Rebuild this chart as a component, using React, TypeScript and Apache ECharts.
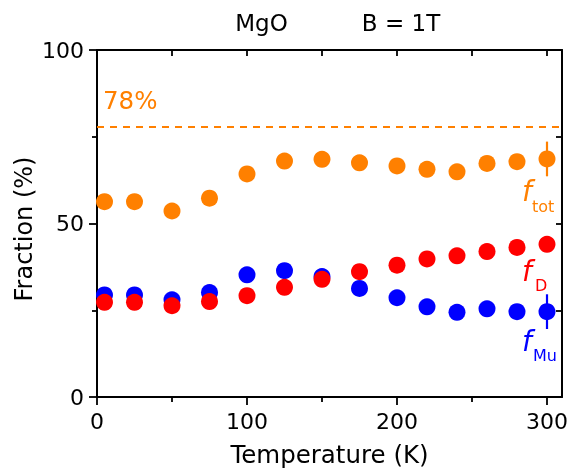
import React, { useEffect, useRef } from "react";
import * as echarts from "echarts";

const temps = [5, 25, 50, 75, 100, 125, 150, 175, 200, 220, 240, 260, 280, 300];
const fTot = [56.3, 56.3, 53.6, 57.3, 64.3, 68.0, 68.5, 67.5, 66.6, 65.6, 64.9, 67.3, 67.8, 68.6];
const fD = [27.3, 27.3, 26.3, 27.5, 29.2, 31.6, 33.9, 36.1, 38.0, 39.8, 40.7, 41.9, 43.1, 44.0];
const fMu = [29.4, 29.4, 28.0, 30.1, 35.2, 36.4, 34.7, 31.3, 28.6, 26.0, 24.4, 25.4, 24.6, 24.6];
const errTemp = 300;
const totErr = 5;
const muErr = 5;
const limitLine = 78;

const xMajor = [0, 100, 200, 300];
const xMinor = [50, 150, 250];
const xTop = [0, 50, 100, 150, 200, 250, 300];
const yMajor = [0, 50, 100];
const yMinor = [25, 75];
const yRight = [25, 50, 75];

const ORANGE = "#ff8000";
const RED = "#ff0000";
const BLUE = "#0000ff";
const FONT = "DejaVu Sans";

export default function App() {
  const ref = useRef<HTMLDivElement>(null);
  useEffect(() => {
    if (!ref.current) return;
    const chart = echarts.init(ref.current, undefined, { renderer: "svg" });
    const line = { show: true, onZero: false, lineStyle: { color: "#000", width: 2 } };
    const tickStyle = { color: "#000", width: 1.8 };
    const baseX = { type: "value", min: 0, max: 310, splitLine: { show: false } };
    const baseY = { type: "value", min: 0, max: 100, splitLine: { show: false } };
    const idx = temps.indexOf(errTemp);
    const errSeries = (val: number, err: number, color: string) => ({
      type: "custom",
      xAxisIndex: 0,
      yAxisIndex: 0,
      z: 1,
      data: [[errTemp, val - err, val + err]],
      renderItem: (_p: any, api: any) => {
        const a = api.coord([api.value(0), api.value(1)]);
        const b = api.coord([api.value(0), api.value(2)]);
        return {
          type: "line",
          shape: { x1: a[0], y1: a[1], x2: b[0], y2: b[1] },
          style: { stroke: color, lineWidth: 2.2 },
        };
      },
    });
    const txt = (text: string, x: number, y: number, size: number, color: string, italic = false, align = "left", rotation = 0) => ({
      type: "text",
      x,
      y,
      rotation,
      style: {
        text,
        fill: color,
        fontSize: size,
        fontFamily: FONT,
        fontStyle: italic ? "italic" : "normal",
        align,
        textAlign: align,
        verticalAlign: "middle",
        textVerticalAlign: "middle",
      },
    });
    chart.setOption({
      animation: false,
      textStyle: { fontFamily: FONT },
      grid: { left: 97, right: 8, top: 50, bottom: 71, containLabel: false, outerBoundsMode: "none" },
      xAxis: [
        {
          ...baseX,
          position: "bottom",
          axisLine: line,
          axisTick: { show: true, customValues: xMajor, length: 8, lineStyle: tickStyle },
          axisLabel: { customValues: xMajor, color: "#000", fontSize: 22, margin: 13, fontFamily: FONT },
          name: "Temperature (K)",
          nameLocation: "middle",
          nameGap: 45,
          nameTextStyle: { color: "#000", fontSize: 24.5, fontFamily: FONT },
        },
        {
          ...baseX,
          position: "bottom",
          axisLine: { show: false, onZero: false },
          axisTick: { show: true, customValues: xMinor, length: 5, lineStyle: tickStyle },
          axisLabel: { show: false },
        },
        {
          ...baseX,
          position: "top",
          axisLine: line,
          axisTick: { show: true, inside: true, customValues: xTop, length: 6, lineStyle: tickStyle },
          axisLabel: { show: false },
        },
      ],
      yAxis: [
        {
          ...baseY,
          position: "left",
          axisLine: line,
          axisTick: { show: true, customValues: yMajor, length: 8, lineStyle: tickStyle },
          axisLabel: { customValues: yMajor, color: "#000", fontSize: 22, margin: 13, fontFamily: FONT },
        },
        {
          ...baseY,
          position: "left",
          axisLine: { show: false, onZero: false },
          axisTick: { show: true, customValues: yMinor, length: 5, lineStyle: tickStyle },
          axisLabel: { show: false },
        },
        {
          ...baseY,
          position: "right",
          axisLine: line,
          axisTick: { show: true, inside: true, customValues: yRight, length: 6, lineStyle: tickStyle },
          axisLabel: { show: false },
        },
      ],
      series: [
        errSeries(fTot[idx], totErr, ORANGE),
        errSeries(fMu[idx], muErr, BLUE),
        {
          type: "scatter",
          xAxisIndex: 0,
          yAxisIndex: 0,
          symbolSize: 17,
          z: 2,
          itemStyle: { color: ORANGE, opacity: 1 },
          data: temps.map((t, i) => [t, fTot[i]]),
          markLine: {
            silent: true,
            symbol: "none",
            label: { show: false },
            lineStyle: { color: ORANGE, width: 2.2, type: [7, 6] },
            data: [{ yAxis: limitLine }],
          },
        },
        {
          type: "scatter",
          xAxisIndex: 0,
          yAxisIndex: 0,
          symbolSize: 17,
          z: 2,
          itemStyle: { color: BLUE, opacity: 1 },
          data: temps.map((t, i) => [t, fMu[i]]),
        },
        {
          type: "scatter",
          xAxisIndex: 0,
          yAxisIndex: 0,
          symbolSize: 17,
          z: 3,
          itemStyle: { color: RED, opacity: 1 },
          data: temps.map((t, i) => [t, fD[i]]),
        },
      ],
      graphic: [
        txt("Fraction (%)", 24, 229, 24, "#000", false, "center", Math.PI / 2),
        txt("MgO", 261.5, 23, 23, "#000", false, "center"),
        txt("B = 1T", 401, 23, 23, "#000", false, "center"),
        txt(limitLine + "%", 103, 100, 24.5, ORANGE),
        txt("f", 522, 191, 28, ORANGE, true),
        txt("tot", 532, 206, 16, ORANGE),
        txt("f", 522, 271, 28, RED, true),
        txt("D", 535, 285, 16, RED),
        txt("f", 522, 341, 28, BLUE, true),
        txt("Mu", 533, 355, 16, BLUE),
      ],
    });
    return () => chart.dispose();
  }, []);
  return <div ref={ref} style={{ position: "fixed", left: 0, top: 0, width: 570, height: 468 }} />;
}
